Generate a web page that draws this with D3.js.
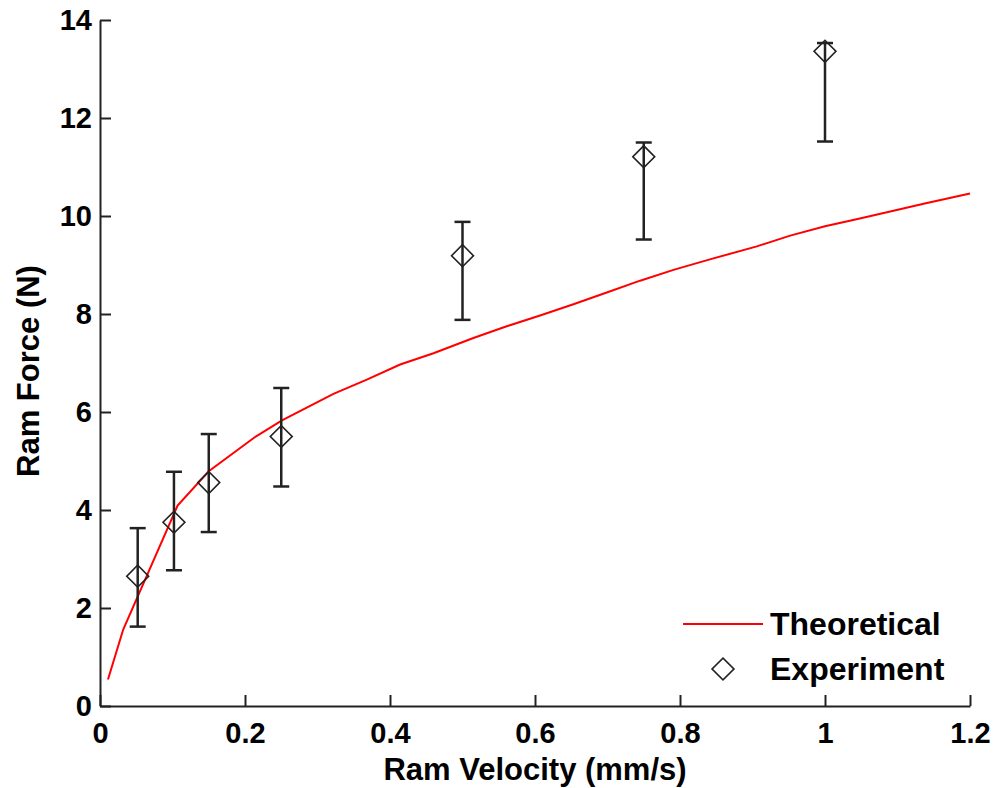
<!DOCTYPE html>
<html>
<head>
<meta charset="utf-8">
<script src="https://cdn.jsdelivr.net/npm/d3@7"></script>
<style>
  html, body { margin: 0; padding: 0; background: #fff; }
  svg { display: block; }
</style>
</head>
<body>
<svg id="chart"></svg>
<script>
const theoVelocity = [0.011, 0.032, 0.107, 0.150, 0.212, 0.251, 0.322, 0.368, 0.414, 0.460,
  0.515, 0.561, 0.607, 0.653, 0.699, 0.745, 0.791, 0.840, 0.906, 0.952, 1.000, 1.045, 1.090, 1.136, 1.200];
const theoForce = [0.54, 1.56, 4.09, 4.79, 5.47, 5.83, 6.37, 6.66, 6.97, 7.20,
  7.51, 7.75, 7.97, 8.20, 8.44, 8.68, 8.90, 9.11, 9.38, 9.60, 9.79, 9.94, 10.09, 10.25, 10.46];

// Experiment points with error bars
const expVelocity = [0.052, 0.102, 0.15, 0.25, 0.5, 0.75, 1.0];
const expForce = [2.65, 3.75, 4.56, 5.50, 9.19, 11.21, 13.36];
const expUpper = [3.63, 4.78, 5.55, 6.49, 9.88, 11.50, 13.53];
const expLower = [1.62, 2.77, 3.55, 4.48, 7.88, 9.52, 11.52];

const xTicks = [0, 0.2, 0.4, 0.6, 0.8, 1, 1.2];
const yTicks = [0, 2, 4, 6, 8, 10, 12, 14];
const legendLabels = ["Theoretical", "Experiment"];

const W = 995, H = 788;
const margin = { top: 20, right: 25, bottom: 82, left: 100 };
const width = W - margin.left - margin.right;
const height = H - margin.top - margin.bottom;

const FONT = "'Liberation Sans', Arial, Helvetica, sans-serif";
const INK = "#000";
const AXIS = "#222";

const svg = d3.select("#chart").attr("width", W).attr("height", H);
const g = svg.append("g").attr("transform", `translate(${margin.left},${margin.top})`);

const x = d3.scaleLinear().domain([0, 1.2]).range([0, width]);
const y = d3.scaleLinear().domain([0, 14]).range([height, 0]);

// Axes (ticks point inward, like MATLAB)
const xAxis = g.append("g")
  .attr("transform", `translate(0,${height})`)
  .call(d3.axisBottom(x).tickValues(xTicks).tickFormat(d3.format("~g")).tickSize(-11).tickSizeOuter(0).tickPadding(16));
const yAxis = g.append("g")
  .call(d3.axisLeft(y).tickValues(yTicks).tickFormat(d3.format("~g")).tickSize(-11).tickSizeOuter(0).tickPadding(8));

[xAxis, yAxis].forEach(ax => {
  ax.select(".domain").attr("stroke", AXIS).attr("stroke-width", 2);
  ax.selectAll(".tick line").attr("stroke", AXIS).attr("stroke-width", 2);
  ax.selectAll(".tick text")
    .attr("fill", INK)
    .attr("font-family", FONT)
    .attr("font-weight", "bold")
    .attr("font-size", 29);
});

// Axis labels
g.append("text")
  .attr("x", width / 2)
  .attr("y", height + 74)
  .attr("text-anchor", "middle")
  .attr("font-family", FONT)
  .attr("font-weight", "bold")
  .attr("font-size", 31)
  .attr("fill", INK)
  .text("Ram Velocity (mm/s)");

g.append("text")
  .attr("transform", "rotate(-90)")
  .attr("x", -height / 2 - 8)
  .attr("y", -61)
  .attr("text-anchor", "middle")
  .attr("font-family", FONT)
  .attr("font-weight", "bold")
  .attr("font-size", 31)
  .attr("fill", INK)
  .text("Ram Force (N)");

// Theoretical line
const theo = theoVelocity.map((v, i) => ({ v, f: theoForce[i] }));
g.append("path")
  .datum(theo)
  .attr("fill", "none")
  .attr("stroke", "#ff0000")
  .attr("stroke-width", 2)
  .attr("d", d3.line().x(d => x(d.v)).y(d => y(d.f)));

// Experiment: error bars + diamond markers
const exp = expVelocity.map((v, i) => ({ v, f: expForce[i], lo: expLower[i], hi: expUpper[i] }));
const capW = 8;
const eb = g.append("g").selectAll("g").data(exp).enter().append("g");
eb.append("line")
  .attr("x1", d => x(d.v)).attr("x2", d => x(d.v))
  .attr("y1", d => y(d.lo)).attr("y2", d => y(d.hi))
  .attr("stroke", AXIS).attr("stroke-width", 2.5);
eb.append("line")
  .attr("x1", d => x(d.v) - capW).attr("x2", d => x(d.v) + capW)
  .attr("y1", d => y(d.hi)).attr("y2", d => y(d.hi))
  .attr("stroke", AXIS).attr("stroke-width", 2.5);
eb.append("line")
  .attr("x1", d => x(d.v) - capW).attr("x2", d => x(d.v) + capW)
  .attr("y1", d => y(d.lo)).attr("y2", d => y(d.lo))
  .attr("stroke", AXIS).attr("stroke-width", 2.5);

const diamond = d3.symbol().type(d3.symbolSquare).size(240);
g.append("g").selectAll("path").data(exp).enter().append("path")
  .attr("d", diamond)
  .attr("transform", d => `translate(${x(d.v)},${y(d.f)}) rotate(45)`)
  .attr("fill", "none")
  .attr("stroke", "#222")
  .attr("stroke-width", 1.6);

// Legend (no box)
const legend = g.append("g").attr("transform", `translate(${583},${604})`);
legend.append("line")
  .attr("x1", 0).attr("x2", 80).attr("y1", 0).attr("y2", 0)
  .attr("stroke", "#ff0000").attr("stroke-width", 2);
legend.append("path")
  .attr("d", diamond)
  .attr("transform", `translate(40,45) rotate(45)`)
  .attr("fill", "none").attr("stroke", "#222").attr("stroke-width", 1.6);
legend.selectAll("text.lbl").data(legendLabels).enter().append("text")
  .attr("class", "lbl")
  .attr("x", 87)
  .attr("y", (d, i) => i * 45)
  .attr("dy", "0.35em")
  .attr("font-family", FONT)
  .attr("font-weight", "bold")
  .attr("font-size", 32)
  .attr("fill", INK)
  .text(d => d);
</script>
</body>
</html>
